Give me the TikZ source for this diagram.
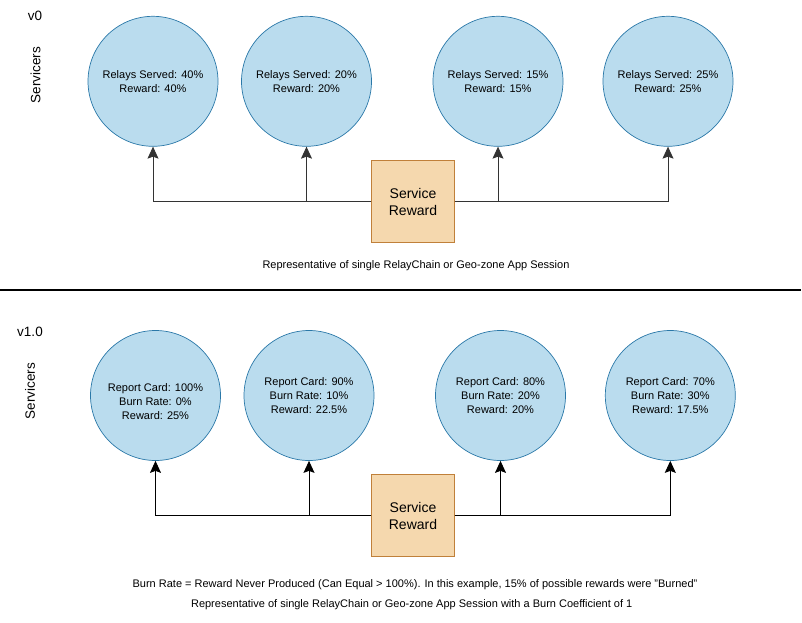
\documentclass[tikz,border=0pt]{standalone}
\usepackage{fontspec}
\setmainfont{Liberation Sans}
\usetikzlibrary{arrows.meta}
\definecolor{cfill}{HTML}{BADCEE}
\definecolor{cdraw}{HTML}{2A78A8}
\definecolor{bfill}{HTML}{F5D8AE}
\definecolor{bdraw}{HTML}{C0803A}
\tikzset{
  servicer/.style={circle,draw=cdraw,fill=cfill,line width=0.7pt,minimum size=130pt,inner sep=0pt,align=center,font=\fontsize{11}{13.8}\selectfont},
  rewardbox/.style={rectangle,draw=bdraw,fill=bfill,line width=0.8pt,minimum width=82.5pt,minimum height=82.5pt,align=center,font=\fontsize{14}{17}\selectfont},
  conn/.style={line width=0.9pt,arrows={-Stealth[length=12pt,width=11pt,inset=2pt]}},
  caption/.style={font=\fontsize{11}{13}\selectfont,inner sep=0pt},
  vlabel/.style={font=\fontsize{13.5}{16}\selectfont,inner sep=0pt},
}
\begin{document}
\begin{tikzpicture}[x=1pt,y=-1pt]
\useasboundingbox (0,0) rectangle (802,622);
% top section
\node[vlabel] (v0) at (35,16) {v0};
\node[vlabel,rotate=90] (s0) at (35.5,75) {Servicers};
\node[servicer] (a1) at (153,81.3) {Relays Served: 40\%\\Reward: 40\%};
\node[servicer] (a2) at (306.5,81.3) {Relays Served: 20\%\\Reward: 20\%};
\node[servicer] (a3) at (498,81.3) {Relays Served: 15\%\\Reward: 15\%};
\node[servicer] (a4) at (668,81.3) {Relays Served: 25\%\\Reward: 25\%};
\node[rewardbox] (ra) at (413,201.5) {Service\\Reward};
\draw[conn,black!80] (ra.west) -| (a1.south);
\draw[conn,black!80] (ra.west) -| (a2.south);
\draw[conn,black!80] (ra.east) -| (a3.south);
\draw[conn,black!80] (ra.east) -| (a4.south);
\node[caption] (ca) at (416,266) {Representative of single RelayChain or Geo-zone App Session};
% separator
\coordinate (sepl) at (0,290);
\coordinate (sepr) at (801,290);
\draw[line width=1.2pt] (sepl) -- (sepr);
% bottom section
\node[vlabel] (v1) at (30,332) {v1.0};
\node[vlabel,rotate=90] (s1) at (30,391) {Servicers};
\node[servicer] (b1) at (155.5,395.5) {};
\node[caption,align=center,font=\fontsize{11}{13.8}\selectfont] (t1) at (155.5,401.7) {Report Card: 100\%\\Burn Rate: 0\%\\Reward: 25\%};
\node[servicer] (b2) at (309,395.5) {Report Card: 90\%\\Burn Rate: 10\%\\Reward: 22.5\%};
\node[servicer] (b3) at (500.5,395.5) {Report Card: 80\%\\Burn Rate: 20\%\\Reward: 20\%};
\node[servicer] (b4) at (670.3,395.5) {Report Card: 70\%\\Burn Rate: 30\%\\Reward: 17.5\%};
\node[rewardbox] (rb) at (413,515.5) {Service\\Reward};
\draw[conn] (rb.west) -| (b1.south);
\draw[conn] (rb.west) -| (b2.south);
\draw[conn] (rb.east) -| (b3.south);
\draw[conn] (rb.east) -| (b4.south);
\node[caption] (cb1) at (415,585) {Burn Rate = Reward Never Produced (Can Equal > 100\%). In this example, 15\% of possible rewards were "Burned"};
\node[caption] (cb2) at (411.7,605) {Representative of single RelayChain or Geo-zone App Session with a Burn Coefficient of 1};
\end{tikzpicture}
\end{document}
